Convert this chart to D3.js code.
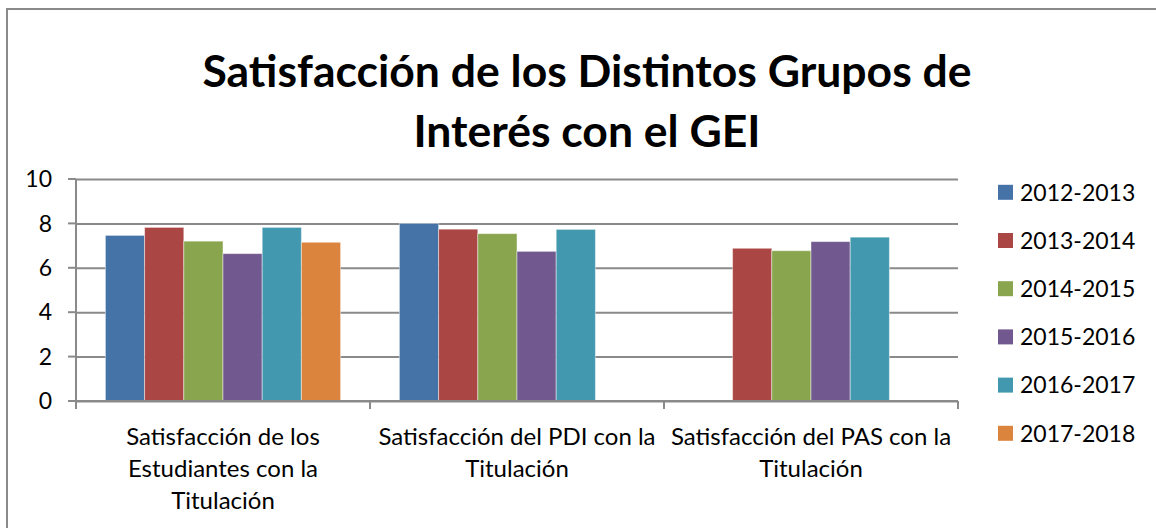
<!DOCTYPE html>
<html>
<head>
<meta charset="utf-8">
<script src="https://cdn.jsdelivr.net/npm/d3@7"></script>
<style>
  html, body { margin: 0; padding: 0; background: #fff; }
  svg { display: block; font-family: Lato, "Open Sans", sans-serif; }
  .grid line { stroke: #8a8a8a; stroke-width: 2; }
  .tick-label { font-size: 23px; fill: #000; }
  .cat-label { font-size: 24px; fill: #000; }
  .legend-label { font-size: 23px; fill: #000; }
  .title { font-size: 44.5px; font-weight: bold; fill: #000; }
</style>
</head>
<body>
<script>
const categories = ["Estudiantes", "PDI", "PAS"];
const categoryLines = [
  ["Satisfacción de los", "Estudiantes con la", "Titulación"],
  ["Satisfacción del PDI con la", "Titulación"],
  ["Satisfacción del PAS con la", "Titulación"]
];
const seriesNames = ["2012-2013", "2013-2014", "2014-2015", "2015-2016", "2016-2017", "2017-2018"];
const colors = ["#4572A7", "#AA4643", "#89A54E", "#71588F", "#4198AF", "#DB843D"];

// one value per category, null = no bar
const s2012 = [7.46, 8.0, null];
const s2013 = [7.82, 7.74, 6.88];
const s2014 = [7.2, 7.54, 6.77];
const s2015 = [6.64, 6.74, 7.18];
const s2016 = [7.82, 7.73, 7.38];
const s2017 = [7.15, null, null];

const yTicks = [0, 2, 4, 6, 8, 10];
const titleLines = ["Satisfacción de los Distintos Grupos de", "Interés con el GEI"];

const allSeries = [s2012, s2013, s2014, s2015, s2016, s2017];

const width = 1156, height = 528;
const plot = {left: 76, right: 958, top: 179, bottom: 401};

const svg = d3.select("body")
  .append("svg")
  .attr("width", width)
  .attr("height", height);

svg.append("rect")
  .attr("width", width)
  .attr("height", height)
  .attr("fill", "#fff");

// outer chart border (runs off right / bottom)
svg.append("rect")
  .attr("x", 7)
  .attr("y", 9)
  .attr("width", width + 20)
  .attr("height", height + 20)
  .attr("fill", "none")
  .attr("stroke", "#8a8a8a")
  .attr("stroke-width", 2);

const x0 = d3.scaleBand()
  .domain(categories)
  .range([plot.left, plot.right]);

const x1 = d3.scaleBand()
  .domain(seriesNames)
  .range([0, x0.bandwidth()])
  .paddingOuter(0.75);

const yScale = d3.scaleLinear()
  .domain([0, 10])
  .range([plot.bottom, plot.top]);

// gridlines
const yAxis = d3.axisLeft(yScale)
  .tickValues(yTicks)
  .tickSize(-(plot.right - plot.left))
  .tickFormat("");

svg.append("g")
  .attr("class", "grid")
  .attr("transform", "translate(" + plot.left + ",0)")
  .call(yAxis)
  .call(g => g.select(".domain").remove());

// small outside ticks on the value axis
svg.append("g")
  .attr("class", "grid")
  .selectAll("line")
  .data(yTicks)
  .enter()
  .append("line")
  .attr("x1", plot.left - 8)
  .attr("x2", plot.left)
  .attr("y1", d => yScale(d))
  .attr("y2", d => yScale(d));

svg.append("g")
  .selectAll("text")
  .data(yTicks)
  .enter()
  .append("text")
  .attr("class", "tick-label")
  .attr("x", 52)
  .attr("y", d => yScale(d))
  .attr("dy", "0.36em")
  .attr("text-anchor", "end")
  .text(d => d);

// bars
const bars = [];
allSeries.forEach((vals, si) => {
  vals.forEach((v, ci) => {
    if (v != null) bars.push({cat: categories[ci], series: seriesNames[si], value: v, color: colors[si]});
  });
});

svg.append("g")
  .selectAll("rect")
  .data(bars)
  .enter()
  .append("rect")
  .attr("x", d => x0(d.cat) + x1(d.series))
  .attr("y", d => yScale(d.value))
  .attr("width", x1.bandwidth())
  .attr("height", d => yScale(0) - yScale(d.value))
  .attr("fill", d => d.color)
  .attr("stroke", "rgba(255,255,255,0.45)")
  .attr("stroke-width", 1);

// axis lines
svg.append("line")
  .attr("x1", plot.left).attr("x2", plot.left)
  .attr("y1", plot.top).attr("y2", plot.bottom + 6)
  .attr("stroke", "#8a8a8a").attr("stroke-width", 2);

svg.append("line")
  .attr("x1", plot.left - 8).attr("x2", plot.right)
  .attr("y1", plot.bottom).attr("y2", plot.bottom)
  .attr("stroke", "#8a8a8a").attr("stroke-width", 2);

const xTickPos = categories.map(c => x0(c)).concat([plot.right]);
svg.append("g")
  .selectAll("line")
  .data(xTickPos)
  .enter()
  .append("line")
  .attr("x1", d => d).attr("x2", d => d)
  .attr("y1", plot.bottom).attr("y2", plot.bottom + 8)
  .attr("stroke", "#8a8a8a").attr("stroke-width", 2);

// category labels
categories.forEach((c, i) => {
  svg.append("text")
    .attr("class", "cat-label")
    .attr("text-anchor", "middle")
    .selectAll("tspan")
    .data(categoryLines[i])
    .enter()
    .append("tspan")
    .attr("x", x0(c) + x0.bandwidth() / 2)
    .attr("y", (d, j) => 445 + j * 32)
    .text(d => d);
});

// legend
const legend = svg.append("g")
  .selectAll("g")
  .data(seriesNames)
  .enter()
  .append("g")
  .attr("transform", (d, i) => "translate(998," + (192.3 + i * 48.2) + ")");

legend.append("rect")
  .attr("x", 0)
  .attr("y", -7.5)
  .attr("width", 15)
  .attr("height", 15)
  .attr("fill", (d, i) => colors[i]);

legend.append("text")
  .attr("class", "legend-label")
  .attr("x", 22)
  .attr("dy", "0.36em")
  .text(d => d);

// title
svg.append("text")
  .attr("class", "title")
  .attr("text-anchor", "middle")
  .selectAll("tspan")
  .data(titleLines)
  .enter()
  .append("tspan")
  .attr("x", 587)
  .attr("y", (d, i) => 87 + i * 60)
  .text(d => d);
</script>
</body>
</html>
